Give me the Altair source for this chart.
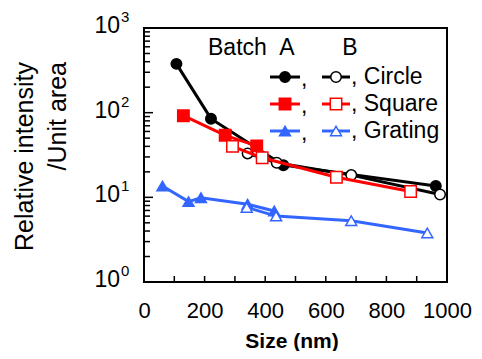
import altair as alt
import pandas as pd

# ---- data ----
circle_a_x = [107, 221, 460, 963]
circle_a_y = [377, 85, 24, 13.6]
circle_b_x = [342, 438, 684, 977]
circle_b_y = [33, 25.6, 18.3, 10.8]
square_a_x = [130, 268, 372]
square_a_y = [92, 54, 40.5]
square_b_x = [292, 390, 635, 880]
square_b_y = [40, 29.3, 17.3, 11.7]
grating_a_x = [61, 147, 188, 342, 430]
grating_a_y = [13.6, 8.9, 9.9, 8.3, 6.9]
grating_b_x = [339, 436, 684, 935]
grating_b_y = [7.6, 6.0, 5.3, 3.8]

x_tick_values = [100, 200, 300, 400, 500, 600, 700, 800, 900]
x_label_values = [0, 200, 400, 600, 800, 1000]
y_major = [1, 10, 100, 1000]
y_exponents = ["0", "1", "2", "3"]
y_minor = [m * 10 ** k for k in range(3) for m in range(2, 10)]

legend_names = ["Circle", "Square", "Grating"]

BLACK = "#000000"
RED = "#ff0000"
BLUE = "#3366ff"
FONT = "Liberation Sans"

xs = alt.Scale(domain=[0, 1000], nice=False, zero=False)
ys = alt.Scale(type="log", domain=[1, 1000], nice=False)
x_axis = alt.Axis(
    values=x_label_values, ticks=False, domain=False, grid=False, format="d",
    labelFontSize=22, labelFont=FONT, labelColor="black", labelPadding=18,
    title=None, labelFlush=False,
)


def X(field="x"):
    return alt.X(f"{field}:Q", scale=xs, axis=x_axis)


def Y(field="y"):
    return alt.Y(f"{field}:Q", scale=ys, axis=None)


def series(xv, yv, color, shape, filled, size):
    df = pd.DataFrame({"x": xv, "y": yv})
    base = alt.Chart(df).encode(x=X(), y=Y())
    line = base.mark_line(color=color, strokeWidth=3)
    pts = base.mark_point(
        shape=shape, filled=True, fill=color if filled else "white",
        stroke=color, strokeWidth=1.5, size=size, opacity=1,
    )
    return [line, pts]


layers = []
layers += series(circle_a_x, circle_a_y, BLACK, "circle", True, 110)
layers += series(circle_b_x, circle_b_y, BLACK, "circle", False, 110)
layers += series(square_a_x, square_a_y, RED, "square", True, 130)
layers += series(square_b_x, square_b_y, RED, "square", False, 130)
layers += series(grating_a_x, grating_a_y, BLUE, "triangle-up", True, 120)
layers += series(grating_b_x, grating_b_y, BLUE, "triangle-up", False, 120)

# inward ticks
xt = alt.Chart(pd.DataFrame({"x": x_tick_values})).mark_rule(color="black", strokeWidth=1.5).encode(
    x=X(), y=alt.value(254), y2=alt.value(248)
)
ymaj = alt.Chart(pd.DataFrame({"y": y_major})).mark_rule(color="black", strokeWidth=1.5).encode(
    y=Y(), x=alt.value(0), x2=alt.value(9)
)
ymin = alt.Chart(pd.DataFrame({"y": y_minor})).mark_rule(color="black", strokeWidth=1.5).encode(
    y=Y(), x=alt.value(0), x2=alt.value(6)
)

# y labels 10^k
ylab_df = pd.DataFrame({"y": y_major, "e": y_exponents})
ylab = alt.Chart(ylab_df).mark_text(
    align="right", baseline="middle", fontSize=23, font=FONT, color="black", dy=-2
).encode(y=Y(), x=alt.value(-24), text=alt.value("10"))
yexp = alt.Chart(ylab_df).mark_text(
    align="left", baseline="middle", fontSize=15, font=FONT, color="black", dy=-11
).encode(y=Y(), x=alt.value(-23), text="e:N")

# titles
ytitle = alt.Chart(pd.DataFrame({"t": [0]})).mark_text(
    angle=270, align="right", baseline="middle", fontSize=25, font=FONT,
    lineHeight=33, color="black",
).encode(x=alt.value(-119), y=alt.value(34),
         text=alt.value(["Relative intensity", "/Unit area"]))
xtitle = alt.Chart(pd.DataFrame({"t": [0]})).mark_text(
    align="center", baseline="middle", fontSize=21, font=FONT, fontWeight="bold",
    color="black",
).encode(x=alt.value(148), y=alt.value(314), text=alt.value("Size (nm)"))

# custom legend
one = pd.DataFrame({"t": [0]})
leg = []
for txt, xv, al in [("Batch", 64, "left"), ("A", 143, "center"), ("B", 206, "center")]:
    leg.append(alt.Chart(one).mark_text(
        align=al, baseline="middle", fontSize=23, font=FONT, color="black"
    ).encode(x=alt.value(xv), y=alt.value(20), text=alt.value(txt)))

rows = [(legend_names[0], BLACK, "circle", 110),
        (legend_names[1], RED, "square", 130),
        (legend_names[2], BLUE, "triangle-up", 120)]
row_y = [49, 76, 103]
for (name, color, shape, size), ry in zip(rows, row_y):
    for x1, x2, xm, filled in [(126, 156, 141, True), (178, 206, 192, False)]:
        leg.append(alt.Chart(one).mark_rule(color=color, strokeWidth=3).encode(
            x=alt.value(x1), x2=alt.value(x2), y=alt.value(ry)))
        leg.append(alt.Chart(one).mark_point(
            shape=shape, filled=True, fill=color if filled else "white",
            stroke=color, strokeWidth=1.5, size=size, opacity=1,
        ).encode(x=alt.value(xm), y=alt.value(ry)))
    leg.append(alt.Chart(one).mark_text(
        align="left", baseline="middle", fontSize=23, font=FONT, color="black"
    ).encode(x=alt.value(157), y=alt.value(ry + 2), text=alt.value(",")))
    leg.append(alt.Chart(one).mark_text(
        align="left", baseline="middle", fontSize=23, font=FONT, color="black"
    ).encode(x=alt.value(207), y=alt.value(ry), text=alt.value(", " + name)))

chart = alt.layer(
    xt, ymaj, ymin, *layers, ylab, yexp, ytitle, xtitle, *leg
).properties(
    width=303, height=254,
    autosize=alt.AutoSizeParams(type="none"),
    padding={"left": 136, "top": 20, "right": 27, "bottom": 69},
    background="white",
).configure_view(stroke="black", strokeWidth=2)

chart.save("out.html", embed_options={"renderer": "svg", "actions": False})
